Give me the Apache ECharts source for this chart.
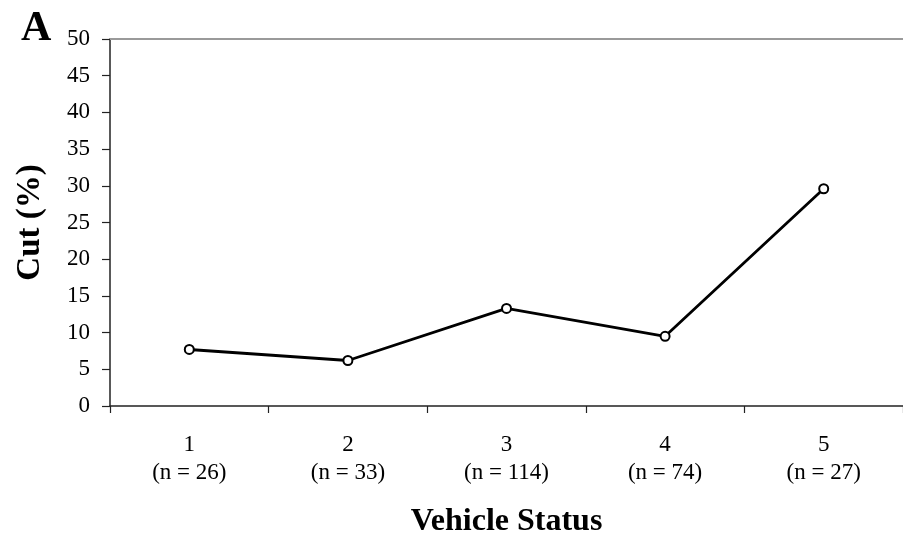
<!DOCTYPE html>
<html>
<head>
<meta charset="utf-8">
<script src="https://cdn.jsdelivr.net/npm/echarts@6/dist/echarts.min.js"></script>
<style>
html,body{margin:0;padding:0;background:#fff;}
#chart{width:903px;height:546px;}
</style>
</head>
<body>
<div id="chart"></div>
<script>
const categories = ['1', '2', '3', '4', '5'];
const sampleSizes = ['(n = 26)', '(n = 33)', '(n = 114)', '(n = 74)', '(n = 27)'];
const cutPercent = [7.7, 6.2, 13.3, 9.5, 29.6];
const yMin = 0, yMax = 50, yStep = 5;
const panelLabel = 'A';
const xTitle = 'Vehicle Status';
const yTitle = 'Cut (%)';

const FONT = "'Liberation Serif', 'Times New Roman', serif";
const catLabels = categories.map((c, i) => c + '\n' + sampleSizes[i]);

const chart = echarts.init(document.getElementById('chart'), null, {renderer: 'canvas'});
chart.setOption({
  animation: false,
  backgroundColor: '#fff',
  title: {
    text: panelLabel,
    left: 16, top: 3,
    textStyle: {fontFamily: FONT, fontWeight: 'bold', fontSize: 42, color: '#000'}
  },
  grid: {left: 110, right: -4.5, top: 39, bottom: 140, containLabel: false},
  xAxis: [{
    type: 'category',
    data: catLabels,
    boundaryGap: true,
    position: 'bottom',
    axisLine: {lineStyle: {color: '#222', width: 1.5}},
    axisTick: {show: true, length: 7, inside: false, alignWithLabel: false, lineStyle: {color: '#222', width: 1.2}},
    axisLabel: {
      margin: 25, fontFamily: FONT, fontSize: 23, color: '#000', lineHeight: 28, interval: 0
    },
    name: xTitle,
    nameLocation: 'middle',
    nameGap: 100,
    nameTextStyle: {fontFamily: FONT, fontWeight: 'bold', fontSize: 32, color: '#000'}
  }, {
    type: 'category',
    data: catLabels,
    position: 'top',
    axisLine: {lineStyle: {color: '#9a9a9a', width: 2}},
    axisTick: {show: false},
    axisLabel: {show: false}
  }],
  yAxis: {
    type: 'value',
    min: yMin, max: yMax, interval: yStep,
    axisLine: {show: true, lineStyle: {color: '#222', width: 1.5}},
    axisTick: {show: true, length: 8, lineStyle: {color: '#222', width: 1.2}},
    splitLine: {show: false},
    axisLabel: {margin: 20, fontFamily: FONT, fontSize: 23, color: '#000'},
    name: yTitle,
    nameLocation: 'middle',
    nameGap: 63,
    nameTextStyle: {fontFamily: FONT, fontWeight: 'bold', fontSize: 33, color: '#000'}
  },
  series: [{
    type: 'line',
    data: cutPercent,
    xAxisIndex: 0,
    symbol: 'circle',
    symbolSize: 9,
    itemStyle: {color: '#fff', borderColor: '#000', borderWidth: 2},
    lineStyle: {color: '#000', width: 2.8}
  }]
});
</script>
</body>
</html>
